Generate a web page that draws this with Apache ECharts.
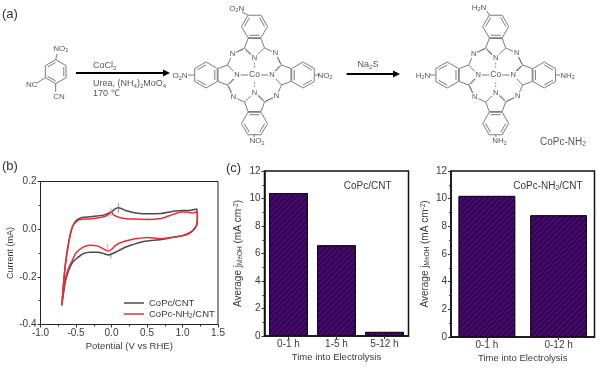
<!DOCTYPE html>
<html><head><meta charset="utf-8">
<style>html,body{margin:0;padding:0;background:#fff}#c{width:600px;height:372px;filter:blur(0.35px)}</style>
<script src="https://cdn.jsdelivr.net/npm/echarts@6/dist/echarts.min.js"></script>
</head><body><div id="c"></div>
<script>
const cvBlack = [[-0.7,-0.32],[-0.68,-0.25],[-0.65,-0.15],[-0.6,-0.05],[-0.55,0.01],[-0.5,0.035],[-0.45,0.045],[-0.4,0.05],[-0.3,0.052],[-0.2,0.055],[-0.1,0.06],[0,0.073],[0.05,0.085],[0.1,0.09],[0.15,0.085],[0.2,0.078],[0.3,0.07],[0.4,0.066],[0.5,0.065],[0.7,0.066],[0.8,0.071],[0.9,0.076],[1.0,0.078],[1.1,0.078],[1.2,0.085],[1.21,0.05],[1.2,0.02],[1.15,-0.005],[1.1,-0.015],[1.0,-0.027],[0.9,-0.032],[0.7,-0.043],[0.5,-0.05],[0.4,-0.056],[0.3,-0.065],[0.2,-0.075],[0.1,-0.09],[0,-0.105],[-0.05,-0.108],[-0.1,-0.103],[-0.2,-0.097],[-0.3,-0.097],[-0.4,-0.103],[-0.5,-0.125],[-0.55,-0.14],[-0.6,-0.17],[-0.65,-0.22],[-0.7,-0.32]];
const cvRed = [[-0.7,-0.32],[-0.68,-0.24],[-0.65,-0.15],[-0.6,-0.05],[-0.55,0.01],[-0.5,0.03],[-0.45,0.04],[-0.4,0.042],[-0.3,0.043],[-0.2,0.047],[-0.1,0.053],[-0.05,0.06],[0,0.072],[0.03,0.06],[0.1,0.05],[0.2,0.044],[0.3,0.043],[0.5,0.041],[0.7,0.045],[0.8,0.055],[0.9,0.065],[1.0,0.073],[1.1,0.07],[1.15,0.068],[1.2,0.073],[1.21,0.05],[1.2,0.015],[1.15,-0.005],[1.1,-0.017],[1.0,-0.028],[0.9,-0.033],[0.7,-0.04],[0.5,-0.035],[0.4,-0.038],[0.3,-0.042],[0.2,-0.05],[0.1,-0.06],[0.05,-0.07],[0,-0.085],[-0.05,-0.092],[-0.1,-0.085],[-0.2,-0.07],[-0.3,-0.067],[-0.4,-0.075],[-0.5,-0.1],[-0.55,-0.13],[-0.6,-0.16],[-0.65,-0.21],[-0.7,-0.32]];
const peakBlackUp = [[0.1,0.109],[0.1,0.068]];
const peakBlackDown = [[-0.01,-0.097],[-0.01,-0.124]];
const peakRedUp = [[-0.01,0.091],[-0.01,0.055]];
const peakRedDown = [[-0.06,-0.063],[-0.06,-0.094]];
const cats1 = ['0-1 h','1-5 h','5-12 h'];
const vals1 = [10.4,6.6,0.3];
const cats2 = ['0-1 h','0-12 h'];
const vals2 = [10.2,8.8];
const xTicksCV = {min:-1,max:1.5,interval:0.5};
const nameBlack = 'CoPc/CNT';
const nameRed = 'CoPc-NH2/CNT';

const FONT = '"Liberation Sans", Arial, sans-serif';
const TXT = '#3a3a3a', CHEM = '#555', BOND = '#7c7c7c', PURPLE = '#4a0a72';
const g = [];
function text(x,y,t,fs=8,align='center',col=CHEM){
  const hasRich = t.includes('{');
  g.push({type:'text',z:10,style:{x,y,text:t,align,verticalAlign:'middle',font:`${fs}px ${FONT}`,fill:col,
    rich:hasRich?{a:{fontSize:fs,fontFamily:FONT,fill:col},s:{fontSize:fs*0.68,fontFamily:FONT,fill:col,verticalAlign:'bottom',lineHeight:fs+1}}:undefined}});
}
function bond(x1,y1,x2,y2,lw=1,stroke=BOND,dash){
  g.push({type:'line',z:5,shape:{x1,y1,x2,y2},style:{stroke,lineWidth:lw,lineDash:dash}});
}
function atom(x,y,t,fs=8){
  g.push({type:'text',z:9,style:{x,y,text:t,align:'center',verticalAlign:'middle',font:`${fs}px ${FONT}`,fill:'#555',backgroundColor:'#fff',padding:[0,1]}});
}
function arrow(x1,x2,y){
  bond(x1,y,x2-6,y,2,'#000');
  g.push({type:'polygon',z:5,shape:{points:[[x2,y],[x2-7,y-3.5],[x2-7,y+3.5]]},style:{fill:'#000'}});
}
function hexagon(cx,cy,r,start,inner){
  const p=[];for(let i=0;i<6;i++){const a=start+i*Math.PI/3;p.push([cx+r*Math.cos(a),cy+r*Math.sin(a)]);}
  for(let i=0;i<6;i++){const q=p[(i+1)%6];bond(p[i][0],p[i][1],q[0],q[1]);}
  (inner||[]).forEach(i=>{const a=p[i],b=p[(i+1)%6];const f=.78;
    bond(cx+(a[0]-cx)*f,cy+(a[1]-cy)*f,cx+(b[0]-cx)*f,cy+(b[1]-cy)*f);});
}
function unit(cx,cy,rot,opt){
  const c=Math.cos(rot),s=Math.sin(rot);
  const T=(x,y)=>[cx+x*c-y*s,cy+x*s+y*c];
  const L=(a,b,d)=>{const p=T(a[0],a[1]),q=T(b[0],b[1]);bond(p[0],p[1],q[0],q[1],1,BOND,d);};
  const N=[0,-17.5],aL=[-10,-27],aR=[10,-27],bL=[-6.5,-36.5],bR=[6.5,-36.5];
  L(N,aL);L(N,aR);L(aL,bL);L(aR,bR);L(bL,bR);
  L([-9,-25],[-2,-18.5]);
  L([0,-15],[0,-6],opt.dash?[1.5,1.5]:undefined);
  const ctr=T(0,-48.5);
  hexagon(ctr[0],ctr[1],13,rot,[1,3,5]);
  L(aR,[21,-22]);L([21,-22],[27,-10]);
  L([22,-20],[26,-11]);
  const nn=T(21,-22);atom(nn[0],nn[1],'N',7.5);
  const ni=T(0,-17.5);atom(ni[0],ni[1],'N',7.5);
  const a=T(opt.from[0],opt.from[1]);bond(a[0],a[1],opt.to[0],opt.to[1]);
}
function pc(cx,cy,subs){
  [0,Math.PI/2,Math.PI,-Math.PI/2].forEach((r,i)=>unit(cx,cy,r,subs[i]));
  atom(cx,cy,'Co',8.5);
}
// (a) reagent
hexagon(55.7,71.7,12,-Math.PI/2,[1,3,5]);
bond(55.7,59.7,57,54);bond(45.3,77.7,37,83);bond(55.7,83.7,55.7,92);
text(60.7,48.3,'{a|NO}{s|2}');text(31.7,84.3,'NC');text(59,96.7,'CN');
arrow(76,170,73);
text(93,66,'{a|CoCl}{s|2}',9,'left');
text(93,84,'{a|Urea, (NH}{s|4}{a|)}{s|2}{a|MoO}{s|4}',9,'left');
text(93,94,'170 ℃',9,'left');
pc(254.5,75,[
 {from:[-6.5,-59.8],to:[242,12],dash:true},
 {from:[0,-60],to:[320,75]},
 {from:[0,-60],to:[254,137],dash:true},
 {from:[0,-60],to:[188,75]}]);
text(236.7,8.5,'{a|O}{s|2}{a|N}');text(180,76,'{a|O}{s|2}{a|N}');
text(325,75.5,'{a|NO}{s|2}');text(257,141,'{a|NO}{s|2}');
arrow(346.7,400,74);
text(368,65,'{a|Na}{s|2}{a|S}',9);
pc(495.7,75,[
 {from:[-6.5,-59.8],to:[487,11],dash:true},
 {from:[0,-60],to:[560,75]},
 {from:[0,-60],to:[496,137],dash:true},
 {from:[0,-60],to:[430,75]}]);
text(479,7.5,'{a|H}{s|2}{a|N}');text(423,75.5,'{a|H}{s|2}{a|N}');
text(567.5,75.5,'{a|NH}{s|2}');text(499.5,141,'{a|NH}{s|2}');
text(563,142,'{a|CoPc-NH}{s|2}',10);
text(2,14,'(a)',13,'left','#333');text(2,166,'(b)',13,'left','#333');text(226,168,'(c)',13,'left','#333');
text(367.7,186,'CoPc/CNT',10,'center',TXT);
text(548,186,'{a|CoPc-NH}{s|2}{a|/CNT}',10,'center',TXT);

const axisLabel={color:TXT,fontSize:10,fontFamily:FONT,margin:4};
const lineDark={show:true,onZero:false,lineStyle:{color:'#222',width:1}};
const tick={show:true,length:3,inside:false,lineStyle:{color:'#333'}};
const minor={show:true,length:2,splitNumber:2,lineStyle:{color:'#333'}};
const yName='{a|Average j}{s|MeOH}{a| (mA cm}{u|-2}{a|)}';
const nameRich={a:{fontSize:10,fontFamily:FONT,color:TXT},s:{fontSize:6.5,fontFamily:FONT,color:TXT,verticalAlign:'bottom',lineHeight:11},u:{fontSize:6.5,fontFamily:FONT,color:TXT,verticalAlign:'top',lineHeight:11}};
const barAxisY=(i,gap)=>({gridIndex:i,type:'value',min:0,max:12,interval:2,axisLine:{...lineDark,lineStyle:{color:'#111',width:1.5}},axisTick:tick,minorTick:minor,splitLine:{show:false},axisLabel,
  name:yName,nameLocation:'middle',nameRotate:90,nameGap:gap,nameTextStyle:{rich:nameRich,...nameRich.a}});
const barAxisX=(i,c)=>({gridIndex:i,type:'category',data:c,axisLine:{...lineDark,lineStyle:{color:'#111',width:1.5}},axisTick:{...tick,alignWithLabel:true},splitLine:{show:false},axisLabel:{...axisLabel,margin:3},
  name:'Time into Electrolysis',nameLocation:'middle',nameGap:16,nameTextStyle:{color:TXT,fontSize:9.5,fontFamily:FONT}});
const decal={symbol:'rect',dashArrayX:[1,0],dashArrayY:[1.5,2],rotation:-Math.PI/4,color:'rgba(20,0,40,0.5)'};
const barSeries=(i,v,w)=>({type:'bar',xAxisIndex:i,yAxisIndex:i,data:v,barWidth:w,
  itemStyle:{color:PURPLE,borderColor:'#1a0a20',borderWidth:1,decal}});
const peak=(d,col)=>({type:'line',xAxisIndex:0,yAxisIndex:0,data:d,symbol:'none',silent:true,lineStyle:{color:col,width:0.7},z:3});

const chart=echarts.init(document.getElementById('c'),null,{renderer:'canvas'});
chart.setOption({
  animation:false,backgroundColor:'#fff',
  grid:[
    {left:40.5,top:181.5,width:177.5,height:143,show:true,borderColor:'#222',borderWidth:1,backgroundColor:'transparent'},
    {left:264.5,top:171,width:144,height:165,show:true,borderColor:'#111',borderWidth:1.5,backgroundColor:'transparent'},
    {left:451,top:171,width:143.5,height:166,show:true,borderColor:'#111',borderWidth:1.5,backgroundColor:'transparent'}
  ],
  xAxis:[
    {gridIndex:0,type:'value',...xTicksCV,axisLine:lineDark,axisTick:tick,minorTick:minor,splitLine:{show:false},axisLabel:{...axisLabel,formatter:v=>v.toFixed(1)},
      name:'Potential (V vs RHE)',nameLocation:'middle',nameGap:17,nameTextStyle:{color:TXT,fontSize:9.5,fontFamily:FONT}},
    barAxisX(1,cats1),barAxisX(2,cats2)
  ],
  yAxis:[
    {gridIndex:0,type:'value',min:-0.4,max:0.2,interval:0.2,axisLine:lineDark,axisTick:tick,minorTick:minor,splitLine:{show:false},
      axisLabel:{...axisLabel,formatter:v=>v.toFixed(1)},name:'Current (mA)',nameLocation:'middle',nameRotate:90,nameGap:24,nameTextStyle:{color:TXT,fontSize:9,fontFamily:FONT}},
    barAxisY(1,21),barAxisY(2,20)
  ],
  legend:{data:[nameBlack,nameRed],icon:'rect',orient:'vertical',left:124,top:298,itemWidth:20,itemHeight:1.5,itemGap:1,padding:0,
    textStyle:{color:TXT,fontSize:9.5,fontFamily:FONT,rich:{a:{fontSize:9.5,fontFamily:FONT,color:TXT},s:{fontSize:6.5,fontFamily:FONT,color:TXT,verticalAlign:'bottom',lineHeight:11}}},
    formatter:n=>n===nameRed?'{a|CoPc-NH}{s|2}{a|/CNT}':'{a|'+n+'}'},
  series:[
    {name:nameBlack,type:'line',xAxisIndex:0,yAxisIndex:0,data:cvBlack,symbol:'none',smooth:0.2,lineStyle:{color:'#4a4a4a',width:1.5},itemStyle:{color:'#4a4a4a'},z:2},
    {name:nameRed,type:'line',xAxisIndex:0,yAxisIndex:0,data:cvRed,symbol:'none',smooth:0.2,lineStyle:{color:'#e0303c',width:1.5},itemStyle:{color:'#e0303c'},z:3},
    peak(peakBlackUp,'#666'),peak(peakBlackDown,'#666'),peak(peakRedUp,'#e77'),peak(peakRedDown,'#e77'),
    barSeries(1,vals1,'81%'),barSeries(2,vals2,'79%')
  ],
  graphic:{elements:g}
});
</script></body></html>
